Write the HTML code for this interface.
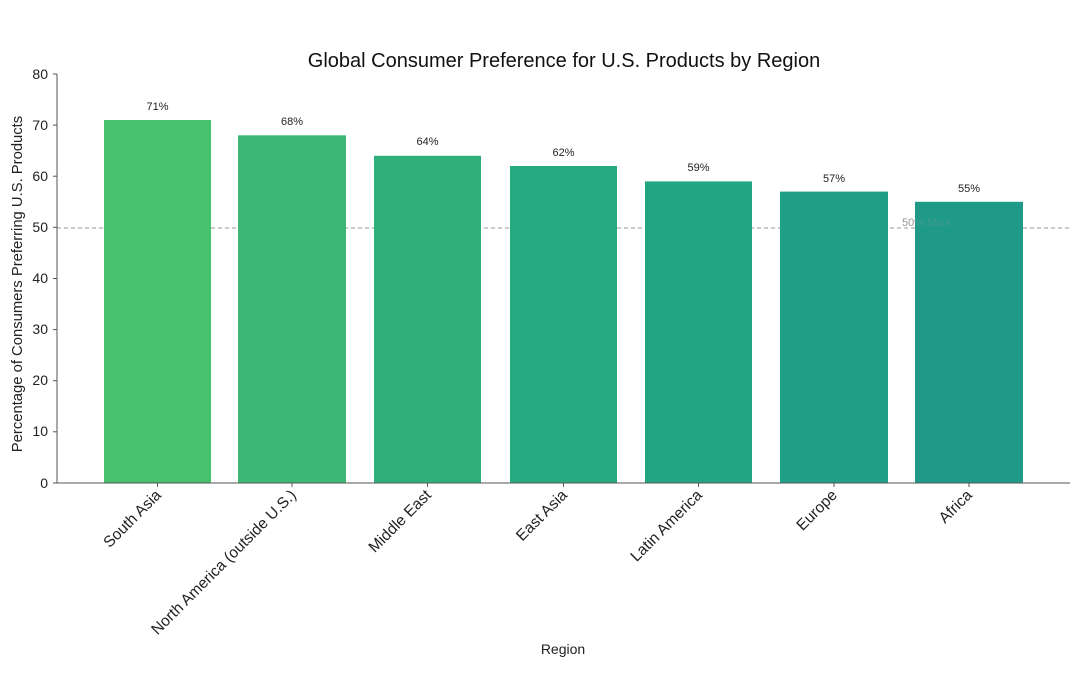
<!DOCTYPE html>
<html><head><meta charset="utf-8"><style>body{margin:0;background:#fff}svg{display:block}</style></head>
<body>
<svg width="1080" height="694" xmlns="http://www.w3.org/2000/svg" font-family="Liberation Sans, sans-serif">
<rect width="1080" height="694" fill="#fff"/>
<text x="564" y="67" font-size="20" text-anchor="middle" fill="#111">Global Consumer Preference for U.S. Products by Region</text>
<line x1="57" y1="228" x2="1070" y2="228" stroke="#999" stroke-width="1" stroke-dasharray="4,3"/>
<text x="902" y="226" font-size="11" fill="#999">50% Mark</text>
<g>
<rect x="104" y="120" width="107" height="363" fill="#48c16f"/>
<rect x="238" y="135.3" width="108" height="347.7" fill="#3cb874"/>
<rect x="374" y="155.8" width="107" height="327.2" fill="#2fb07b"/>
<rect x="510" y="166" width="107" height="317" fill="#26aa80"/>
<rect x="645" y="181.4" width="107" height="301.6" fill="#22a584"/>
<rect x="780" y="191.6" width="108" height="291.4" fill="#20a087"/>
<rect x="915" y="201.8" width="108" height="281.2" fill="#1f9a89"/>
</g>
<text x="902" y="226" font-size="11" fill="#999" opacity="0.25">50% Mark</text>
<g font-size="11" text-anchor="middle" fill="#222">
<text x="157.5" y="110">71%</text><text x="292" y="125">68%</text><text x="427.5" y="145">64%</text>
<text x="563.5" y="156">62%</text><text x="698.5" y="171">59%</text><text x="834" y="182">57%</text><text x="969" y="192">55%</text>
</g>
<line x1="57" y1="74" x2="57" y2="483" stroke="#555"/>
<line x1="57" y1="483" x2="1070" y2="483" stroke="#555"/>
<g stroke="#555">
<line x1="53" y1="74" x2="57" y2="74"/><line x1="53" y1="125.1" x2="57" y2="125.1"/><line x1="53" y1="176.2" x2="57" y2="176.2"/><line x1="53" y1="227.3" x2="57" y2="227.3"/><line x1="53" y1="278.5" x2="57" y2="278.5"/><line x1="53" y1="329.6" x2="57" y2="329.6"/><line x1="53" y1="380.7" x2="57" y2="380.7"/><line x1="53" y1="431.8" x2="57" y2="431.8"/><line x1="53" y1="483" x2="57" y2="483"/>
</g>
<g font-size="14" text-anchor="end" fill="#222">
<text x="48" y="79">80</text><text x="48" y="130">70</text><text x="48" y="181">60</text><text x="48" y="232">50</text><text x="48" y="283">40</text><text x="48" y="334">30</text><text x="48" y="385">20</text><text x="48" y="436">10</text><text x="48" y="488">0</text>
</g>
<g stroke="#555">
<line x1="157.5" y1="483" x2="157.5" y2="487"/><line x1="292" y1="483" x2="292" y2="487"/><line x1="427.5" y1="483" x2="427.5" y2="487"/><line x1="563.5" y1="483" x2="563.5" y2="487"/><line x1="698.5" y1="483" x2="698.5" y2="487"/><line x1="834" y1="483" x2="834" y2="487"/><line x1="969" y1="483" x2="969" y2="487"/>
</g>
<g font-size="15.5" text-anchor="end" fill="#222">
<text transform="translate(162,496) rotate(-45)">South Asia</text>
<text transform="translate(297,496) rotate(-45)">North America (outside U.S.)</text>
<text transform="translate(432,496) rotate(-45)">Middle East</text>
<text transform="translate(568,496) rotate(-45)">East Asia</text>
<text transform="translate(703,496) rotate(-45)">Latin America</text>
<text transform="translate(838,496) rotate(-45)">Europe</text>
<text transform="translate(973,496) rotate(-45)">Africa</text>
</g>
<text x="563" y="654" font-size="14" text-anchor="middle" fill="#222">Region</text>
<text transform="translate(22,284) rotate(-90)" font-size="14.8" text-anchor="middle" fill="#222">Percentage of Consumers Preferring U.S. Products</text>
</svg>
</body></html>
